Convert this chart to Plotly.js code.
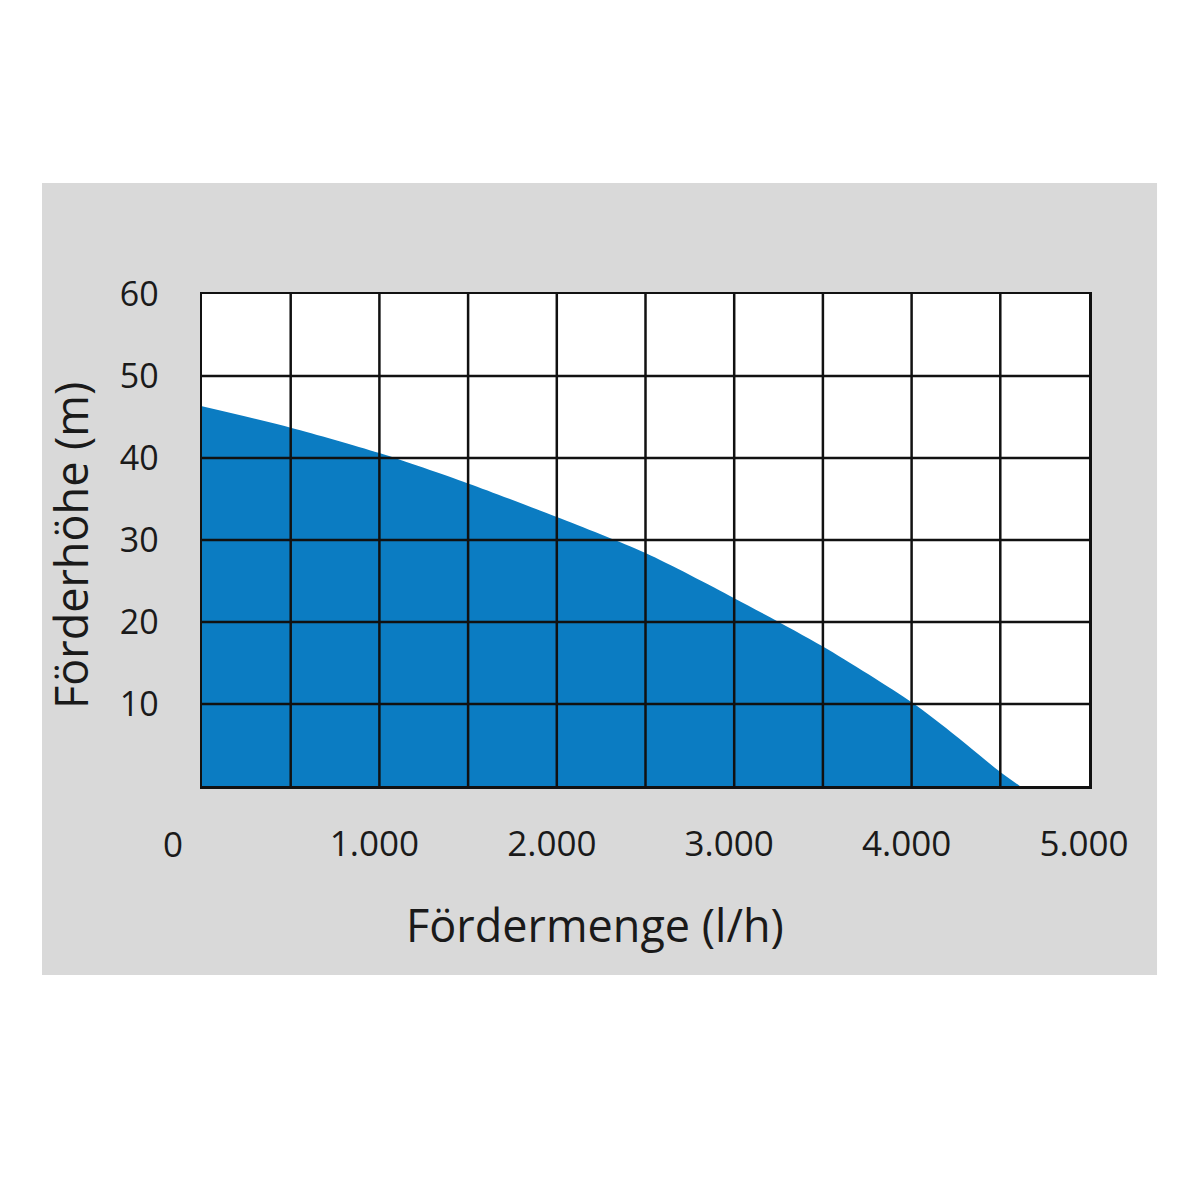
<!DOCTYPE html>
<html>
<head>
<meta charset="utf-8">
<script src="https://cdn.plot.ly/plotly-3.0.1.min.js"></script>
<style>html,body{margin:0;padding:0;background:#fff;}#chart{width:1200px;height:1200px;}</style>
</head>
<body>
<div id="chart"></div>
<script>
// Data (Fördermenge in l/h, Förderhöhe in m)
const flow = [0, 500, 1000, 1500, 2000, 2500, 3000, 3500, 4000, 4250, 4500, 4610];
const head = [46.3, 43.7, 40.6, 36.9, 32.8, 28.4, 22.9, 17.0, 10.2, 6.1, 1.7, 0];

const xTickVals = [1000, 2000, 3000, 4000, 5000];
const xTickText = ['1.000', '2.000', '3.000', '4.000', '5.000'];
const yTickVals = [10, 20, 30, 40, 50, 60];
const yTickText = ['10', '20', '30', '40', '50', '60'];
const xGridVals = [500, 1000, 1500, 2000, 2500, 3000, 3500, 4000, 4500];
const yGridVals = [10, 20, 30, 40, 50];

const xTitle = 'Fördermenge (l/h)';
const yTitle = 'Förderhöhe (m)';
const originLabel = '0';

const FONT = '"Open Sans", "DejaVu Sans", sans-serif';
const TXT = '#1a1a1a';
const GRID = '#111111';

const trace = {
  x: flow,
  y: head,
  type: 'scatter',
  mode: 'lines',
  fill: 'tozeroy',
  fillcolor: '#0b7cc2',
  line: {color: '#0b7cc2', width: 0, shape: 'spline', smoothing: 0.8},
  hoverinfo: 'skip'
};

const shapes = [
  {type: 'rect', xref: 'paper', yref: 'paper', x0: -0.1804, x1: 1.0767, y0: -0.3841, y1: 1.2256,
   fillcolor: '#d9d9d9', line: {width: 0}, layer: 'below'},
  {type: 'rect', xref: 'paper', yref: 'paper', x0: 0, x1: 1, y0: 0, y1: 1,
   fillcolor: '#ffffff', line: {width: 0}, layer: 'below'}
];
xGridVals.forEach(v => shapes.push({type: 'line', xref: 'x', yref: 'paper', x0: v, x1: v, y0: 0, y1: 1,
  line: {color: GRID, width: 2.5}, layer: 'above'}));
yGridVals.forEach(v => shapes.push({type: 'line', xref: 'paper', yref: 'y', x0: 0, x1: 1, y0: v, y1: v,
  line: {color: GRID, width: 2.5}, layer: 'above'}));

const layout = {
  width: 1200,
  height: 1200,
  margin: {l: 202, r: 111, t: 294, b: 414, pad: 0},
  paper_bgcolor: '#ffffff',
  plot_bgcolor: '#ffffff',
  showlegend: false,
  font: {family: FONT, color: TXT},
  xaxis: {
    range: [0, 5000],
    tickvals: xTickVals,
    ticktext: xTickText,
    ticks: 'outside',
    ticklen: 25,
    tickcolor: 'rgba(0,0,0,0)',
    ticklabelshift: -5,
    tickfont: {family: FONT, size: 35, color: TXT},
    showgrid: false,
    zeroline: false,
    showline: true,
    mirror: true,
    linecolor: GRID,
    linewidth: 2.5,
    layer: 'above traces',
    fixedrange: true
  },
  yaxis: {
    range: [0, 60],
    tickvals: yTickVals,
    ticktext: yTickText,
    ticks: 'outside',
    ticklen: 34,
    tickcolor: 'rgba(0,0,0,0)',
    tickfont: {family: FONT, size: 34, color: TXT},
    showgrid: false,
    zeroline: false,
    showline: true,
    mirror: true,
    linecolor: GRID,
    linewidth: 2.5,
    layer: 'above traces',
    fixedrange: true
  },
  shapes: shapes,
  annotations: [
    {text: originLabel, xref: 'paper', yref: 'paper', x: -0.0327, y: -0.1159, showarrow: false,
     xanchor: 'center', yanchor: 'middle', font: {family: FONT, size: 35, color: TXT}},
    {text: xTitle, xref: 'paper', yref: 'paper', x: 0.443, y: -0.2825, showarrow: false,
     xanchor: 'center', yanchor: 'middle', font: {family: FONT, size: 45, color: TXT}},
    {text: yTitle, xref: 'paper', yref: 'paper', x: -0.1488, y: 0.4878, showarrow: false, textangle: -90,
     xanchor: 'center', yanchor: 'middle', font: {family: FONT, size: 45, color: TXT}}
  ]
};

Plotly.newPlot('chart', [trace], layout, {displayModeBar: false, staticPlot: true});
</script>
</body>
</html>
